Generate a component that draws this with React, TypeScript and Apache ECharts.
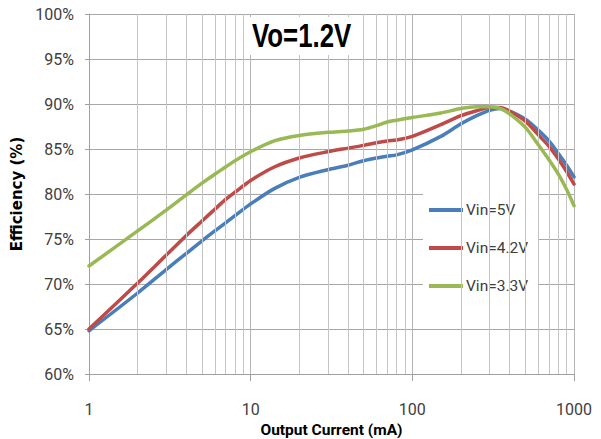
import React, { useEffect, useRef } from "react";
import * as echarts from "echarts";

const currents = [1, 2, 3, 4, 5, 6, 7, 8, 10, 14, 20, 30, 40, 50, 60, 70, 80, 100, 150, 200, 250, 300, 350, 400, 500, 600, 700, 800, 900, 1000];
const vin5 = [64.8, 69.0, 71.6, 73.4, 74.8, 75.9, 76.8, 77.6, 78.9, 80.6, 81.85, 82.7, 83.2, 83.7, 84.0, 84.2, 84.35, 84.9, 86.4, 87.8, 88.7, 89.3, 89.5, 89.2, 88.3, 87.1, 85.9, 84.5, 83.2, 81.9];
const vin42 = [65.0, 70.1, 73.2, 75.4, 77.0, 78.3, 79.4, 80.2, 81.5, 83.0, 84.0, 84.7, 85.1, 85.4, 85.7, 85.9, 86.0, 86.4, 87.7, 88.7, 89.25, 89.6, 89.6, 89.2, 88.1, 86.6, 85.3, 83.9, 82.5, 81.1];
const vin33 = [72.0, 75.9, 78.2, 79.9, 81.2, 82.2, 83.0, 83.7, 84.7, 85.9, 86.5, 86.85, 87.0, 87.2, 87.6, 88.0, 88.2, 88.5, 89.0, 89.5, 89.7, 89.7, 89.5, 88.9, 87.4, 85.5, 83.8, 82.2, 80.5, 78.7];
const seriesNames = ["Vin=5V", "Vin=4.2V", "Vin=3.3V"];
const seriesColors = ["#4A7EBB", "#BE4B48", "#98B954"];
const minorGridX = [2, 3, 4, 5, 6, 7, 8, 9, 20, 30, 40, 50, 60, 70, 80, 90, 200, 300, 400, 500, 600, 700, 800, 900];
const titleText = "Vo=1.2V";
const xName = "Output Current (mA)";
const yName = "Efficiency (%)";

const LABEL_FONT = "Roboto, 'Liberation Sans', sans-serif";

export default function App() {
  const ref = useRef<HTMLDivElement>(null);
  useEffect(() => {
    if (!ref.current) return;
    const chart = echarts.init(ref.current, null, { renderer: "svg" });
    const mk = (vals: number[]) => currents.map((c, i) => [c, vals[i]]);
    const all = [vin5, vin42, vin33];
    chart.setOption({
      animation: false,
      backgroundColor: "#ffffff",
      graphic: [
        {
          type: "rect",
          z: 100,
          zlevel: 0,
          silent: true,
          shape: { x: 250, y: 17, width: 106, height: 38 },
          style: { fill: "#ffffff" },
        },
        {
          type: "text",
          z: 101,
          zlevel: 0,
          silent: true,
          x: 252,
          y: 35,
          scaleX: 0.76,
          style: {
            text: titleText,
            font: "bold 34px 'Liberation Sans', Arial, sans-serif",
            fill: "#000000",
            textAlign: "left",
            textVerticalAlign: "middle",
          },
        },
      ],
      legend: {
        data: seriesNames,
        orient: "vertical",
        left: 423,
        top: 193,
        padding: [7, 10, 7, 6],
        itemGap: 18,
        itemWidth: 34,
        itemHeight: 4,
        icon: "rect",
        backgroundColor: "#ffffff",
        textStyle: { fontFamily: LABEL_FONT, fontSize: 15.5, color: "#404040", lineHeight: 20, padding: [0, 0, 0, -2] },
      },
      grid: { left: 89, right: 27, top: 14, bottom: 65, outerBoundsMode: "none", containLabel: false },
      xAxis: {
        type: "log",
        logBase: 10,
        min: 1,
        max: 1000,
        name: xName,
        nameLocation: "middle",
        nameGap: 45,
        nameTextStyle: { fontFamily: LABEL_FONT, fontSize: 15.5, fontWeight: "bold", color: "#000" },
        axisLine: { show: true, lineStyle: { color: "#a0a0a0", width: 1 } },
        axisTick: { show: true, length: 7, lineStyle: { color: "#a0a0a0" } },
        axisLabel: {
          margin: 27,
          fontFamily: LABEL_FONT,
          fontSize: 16,
          color: "#404040",
          formatter: (v: number) => String(Math.round(v)),
        },
        splitLine: { show: true, lineStyle: { color: "#b4b4b4", width: 1 } },
        minorTick: { show: false },
      },
      yAxis: {
        type: "value",
        min: 60,
        max: 100,
        interval: 5,
        name: yName,
        nameLocation: "middle",
        nameRotate: 90,
        nameGap: 63,
        nameTextStyle: { fontFamily: "'DejaVu Sans', sans-serif", fontSize: 15, fontWeight: "bold", color: "#000" },
        axisLine: { show: true, lineStyle: { color: "#a0a0a0", width: 1 } },
        axisTick: { show: true, length: 4, lineStyle: { color: "#a0a0a0" } },
        axisLabel: {
          margin: 15,
          fontFamily: LABEL_FONT,
          fontSize: 16,
          color: "#404040",
          formatter: "{value}%",
        },
        splitLine: { show: true, lineStyle: { color: "#a6a6a6", width: 1 } },
      },
      series: [
        {
          name: "_grid",
          type: "line",
          data: [],
          z: 1,
          silent: true,
          markLine: {
            silent: true,
            symbol: ["none", "none"],
            label: { show: false },
            lineStyle: { color: "#c4c4c4", width: 1, type: "solid" },
            data: minorGridX.map((x) => ({ xAxis: x })),
          },
        },
        ...seriesNames.map((n, i) => ({
          name: n,
          type: "line",
          data: mk(all[i]),
          smooth: 0.3,
          showSymbol: false,
          symbol: "none",
          z: 3 + i,
          lineStyle: { color: seriesColors[i], width: 3.5, cap: "round" },
          itemStyle: { color: seriesColors[i] },
        })),
      ],
    });
    return () => chart.dispose();
  }, []);
  return (
    <div
      ref={ref}
      style={{ position: "fixed", left: 0, top: 0, width: 601, height: 439 }}
    />
  );
}
